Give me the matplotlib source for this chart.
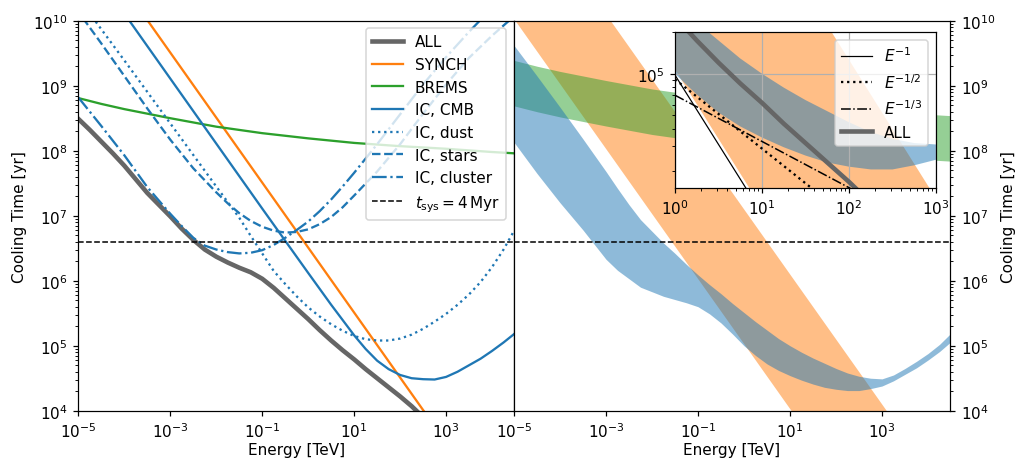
import numpy as np
import matplotlib
matplotlib.use("Agg")
import matplotlib.pyplot as plt
from matplotlib.ticker import FixedLocator, NullLocator, NullFormatter

# ---------------- data (log10 E [TeV], log10 t [yr]) ----------------
all_logE = [-5, -4.75, -4.5, -4.25, -4, -3.75, -3.5, -3.25, -3, -2.75, -2.5, -2.25, -2, -1.75,
            -1.5, -1.25, -1, -0.75, -0.5, -0.25, 0, 0.25, 0.5, 0.75, 1, 1.25, 1.5, 1.75, 2, 2.25, 2.5]
all_logt = [8.49, 8.32, 8.14, 7.96, 7.77, 7.56, 7.35, 7.17, 6.99, 6.80, 6.63, 6.48, 6.37, 6.28,
            6.20, 6.13, 6.03, 5.89, 5.73, 5.57, 5.41, 5.24, 5.08, 4.93, 4.79, 4.64, 4.50, 4.36, 4.22, 4.07, 3.90]

synch_logE = [-4, 3]
synch_logt = [10.51, 3.51]

brems_logE = [-5, -4.5, -4, -3, -2, -1, 0, 1, 2, 3, 4, 4.48]
brems_logt = [8.81, 8.72, 8.64, 8.50, 8.37, 8.27, 8.19, 8.12, 8.07, 8.03, 7.98, 7.96]

cmb_logE = [-4, -3, -2, -1, 0, 0.5, 1, 1.25, 1.5, 1.75, 2, 2.25, 2.5, 2.75, 3, 3.25, 3.5, 3.75, 4, 4.25, 4.48]
cmb_logt = [10.11, 9.11, 8.11, 7.11, 6.12, 5.63, 5.16, 4.95, 4.77, 4.64, 4.55, 4.50, 4.485, 4.48, 4.52,
            4.60, 4.70, 4.80, 4.92, 5.05, 5.18]

dust_logE = [-4.7, -4, -3, -2, -1.5, -1.25, -1, -0.75, -0.5, -0.25, 0, 0.25, 0.5, 0.75, 1, 1.25, 1.5,
             1.75, 2, 2.25, 2.5, 2.75, 3, 3.25, 3.5, 3.75, 4, 4.25, 4.48]
dust_logt = [10.06, 9.39, 8.42, 7.45, 6.97, 6.69, 6.42, 6.15, 5.95, 5.76, 5.59, 5.45, 5.33, 5.23, 5.15,
             5.10, 5.08, 5.08, 5.11, 5.17, 5.26, 5.37, 5.49, 5.63, 5.79, 5.98, 6.21, 6.48, 6.77]

stars_logE = [-4.9, -4.5, -4, -3.5, -3, -2.5, -2, -1.75, -1.5, -1.25, -1, -0.75, -0.5, -0.25, 0, 0.25,
              0.5, 0.75, 1, 1.5, 2, 2.5, 3, 3.5, 4, 4.4]
stars_logt = [10.04, 9.65, 9.15, 8.65, 8.17, 7.73, 7.36, 7.19, 7.04, 6.92, 6.83, 6.77, 6.74, 6.75, 6.79,
              6.87, 6.98, 7.13, 7.31, 7.68, 8.10, 8.57, 9.02, 9.43, 9.77, 10.02]

cluster_logE = [-5, -4.5, -4, -3.5, -3, -2.75, -2.5, -2.25, -2, -1.75, -1.5, -1.25, -1, -0.75, -0.5,
                -0.25, 0, 0.25, 0.5, 0.75, 1, 1.5, 2, 2.5, 3, 3.5, 3.8]
cluster_logt = [8.82, 8.38, 7.93, 7.44, 7.03, 6.84, 6.66, 6.54, 6.48, 6.44, 6.42, 6.43, 6.47, 6.55, 6.66,
                6.78, 6.91, 7.07, 7.25, 7.45, 7.66, 8.10, 8.56, 9.02, 9.44, 9.83, 10.05]

t_sys = 4e6

# bands (right panel)
ic_band_logE = [-5, -4.5, -4, -3.5, -3, -2.75, -2.5, -2.25, -2, -1.75, -1.5, -1.25, -1, -0.75, -0.5,
                -0.25, 0, 0.25, 0.5, 0.75, 1, 1.25, 1.5, 1.75, 2, 2.25, 2.5, 2.75, 3, 3.25, 3.5,
                3.75, 4, 4.25, 4.48]
ic_band_low = [8.13, 7.65, 7.20, 6.78, 6.33, 6.16, 6.03, 5.90, 5.83, 5.76, 5.71, 5.66, 5.60, 5.49, 5.35,
               5.18, 5.00, 4.85, 4.72, 4.62, 4.54, 4.47, 4.41, 4.36, 4.33, 4.31, 4.31, 4.34, 4.38, 4.46,
               4.56, 4.66, 4.78, 4.91, 5.05]
ic_band_high = [9.62, 9.15, 8.67, 8.18, 7.68, 7.42, 7.17, 6.94, 6.76, 6.58, 6.42, 6.25, 6.09, 5.94, 5.80,
                5.65, 5.51, 5.37, 5.24, 5.11, 5.00, 4.90, 4.81, 4.73, 4.65, 4.58, 4.53, 4.50, 4.49, 4.55,
                4.65, 4.76, 4.88, 5.02, 5.18]

brems_band_low = [8.69, 8.60, 8.52, 8.38, 8.25, 8.15, 8.07, 8.00, 7.95, 7.91, 7.86, 7.84]
brems_band_high = [9.39, 9.30, 9.22, 9.08, 8.95, 8.85, 8.77, 8.70, 8.65, 8.61, 8.56, 8.54]

synch_band_logE = [-5.5, 4.5]
synch_band_low = [10.53, 0.53]
synch_band_high = [12.60, 2.60]

# inset reference power laws
ref_logE = [0, 3]
ref_m1 = [4.99, 1.99]
ref_m12 = [4.96, 3.46]
ref_m13 = [4.845, 3.845]


def p(v):
    return 10.0 ** np.asarray(v, dtype=float)


DPI = 110
fig = plt.figure(figsize=(1016 / DPI, 461 / DPI), dpi=DPI)
ax1 = fig.add_axes([0.0771, 0.1069, 0.4288, 0.846])
ax2 = fig.add_axes([0.5059, 0.1069, 0.4291, 0.846], sharey=ax1)

# ---------------- left panel ----------------
ax1.plot(p(all_logE), p(all_logt), color="0.4", lw=3, label="ALL")
ax1.plot(p(synch_logE), p(synch_logt), color="C1", lw=1.5, label="SYNCH")
ax1.plot(p(brems_logE), p(brems_logt), color="C2", lw=1.5, label="BREMS")
ax1.plot(p(cmb_logE), p(cmb_logt), color="C0", lw=1.5, ls="-", label="IC, CMB")
ax1.plot(p(dust_logE), p(dust_logt), color="C0", lw=1.5, ls=":", label="IC, dust")
ax1.plot(p(stars_logE), p(stars_logt), color="C0", lw=1.5, ls="--", label="IC, stars")
ax1.plot(p(cluster_logE), p(cluster_logt), color="C0", lw=1.5, ls="-.", label="IC, cluster")
ax1.axhline(t_sys, color="k", ls="--", lw=1, label=r"$t_{\rm sys} = 4\,{\rm Myr}$")
ax1.legend(loc="upper right")


# ---------------- right panel ----------------
def bands(ax):
    ax.fill_between(p(synch_band_logE), p(synch_band_low), p(synch_band_high),
                    color="C1", alpha=0.5, lw=0)
    ax.fill_between(p(brems_logE), p(brems_band_low), p(brems_band_high),
                    color="C2", alpha=0.5, lw=0)
    ax.fill_between(p(ic_band_logE), p(ic_band_low), p(ic_band_high),
                    color="C0", alpha=0.5, lw=0)


bands(ax2)
ax2.axhline(t_sys, color="k", ls="--", lw=1)

for ax in (ax1, ax2):
    ax.set_xscale("log")
    ax.set_yscale("log")
    ax.set_xlim(1e-5, 3e4)
    ax.set_ylim(1e4, 1e10)
    ax.xaxis.set_major_locator(FixedLocator([1e-5, 1e-3, 1e-1, 1e1, 1e3]))
    ax.xaxis.set_minor_locator(NullLocator())
    ax.set_xlabel("Energy [TeV]", labelpad=1.5)

ax1.set_ylabel("Cooling Time [yr]")
ax2.yaxis.tick_right()
ax2.yaxis.set_label_position("right")
ax2.set_ylabel("Cooling Time [yr]")

# ---------------- inset ----------------
axin = fig.add_axes([0.6644, 0.590, 0.2569, 0.3384])
bands(axin)
axin.plot(p(ref_logE), p(ref_m1), color="k", lw=0.8, ls="-", label=r"$E^{-1}$")
axin.plot(p(ref_logE), p(ref_m12), color="k", lw=1.5, ls=":", label=r"$E^{-1/2}$")
axin.plot(p(ref_logE), p(ref_m13), color="k", lw=1.0, ls="-.", label=r"$E^{-1/3}$")
axin.plot(p(all_logE), p(all_logt), color="0.4", lw=3, label="ALL")
axin.set_xscale("log")
axin.set_yscale("log")
axin.set_xlim(1, 1e3)
axin.set_ylim(1.5e4, 2e5)
axin.yaxis.set_minor_formatter(NullFormatter())
axin.grid(True)
axin.legend(loc="upper right")

fig.savefig("out.png", dpi=DPI)
